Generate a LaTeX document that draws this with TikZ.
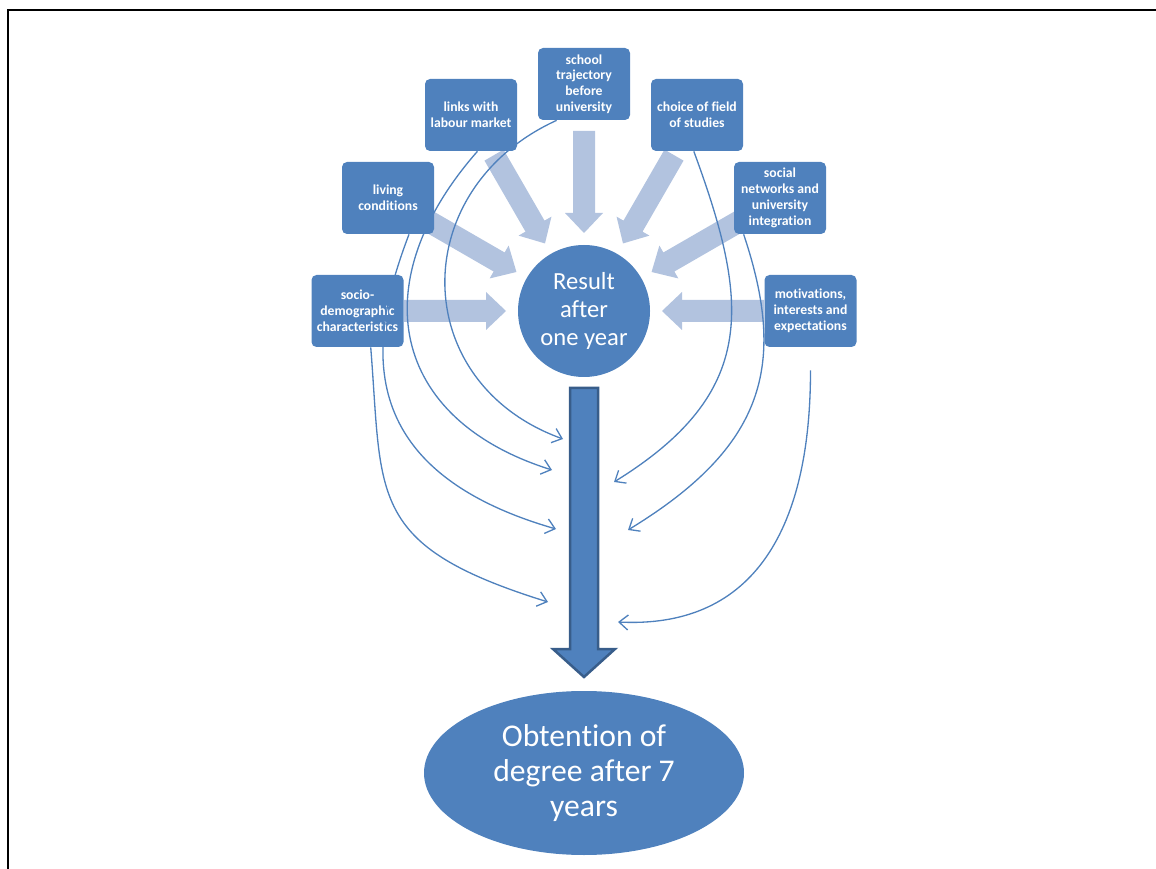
\documentclass[tikz,border=0pt]{standalone}
\usepackage{fontspec}
\setmainfont{Carlito}[Ligatures=NoCommon]
\usetikzlibrary{shapes.geometric,arrows.meta}

\definecolor{boxblue}{HTML}{4F81BD}
\definecolor{paleblue}{RGB}{178,195,223}
\definecolor{darkblue}{HTML}{385D8A}

\tikzset{
  factor/.style={rectangle, rounded corners=1mm, fill=boxblue, text=white,
    minimum width=18.4mm, minimum height=14.4mm, inner sep=0pt, align=center,
    font=\fontsize{7.8}{9}\selectfont\bfseries},
  link/.style={draw=boxblue, line width=0.75pt,
    -{Straight Barb[length=1.8mm,width=3mm]}}
}

\begin{document}
\begin{tikzpicture}[x=0.2mm,y=-0.2mm]
\useasboundingbox (0,0) rectangle (1156,869);
% frame
\draw[line width=0.4mm] (8,869) -- (8,10.5) -- (1156,10.5);

% pale arrows into the result
\foreach \a in {0,30,...,180}
  \fill[paleblue, shift={(584,311)}, rotate=\a]
    (180,11) -- (98,11) -- (98,19) -- (78,0) -- (98,-19) -- (98,-11) -- (180,-11) -- cycle;

% factors
\node[factor] (school) at (584,84) {school\\trajectory\\before\\university};
\node[factor] (links) at (471,115) {links with\\labour market};
\node[factor] (choice) at (697,115) {choice of field\\of studies};
\node[factor] (living) at (388,198) {living\\conditions};
\node[factor] (social) at (780,198) {social\\networks and\\university\\integration};
\node[factor] (socio) at (357.5,311) {socio-\\demographic\\characteristics};
\node[factor] (motiv) at (810.5,311) {motivations,\\interests and\\expectations};

\node[circle, fill=boxblue, text=white, minimum size=26.4mm, inner sep=0pt,
  align=center, font=\fontsize{14}{16}\selectfont] (result) at (584,311) {Result\\after\\one year};

% big arrow down
\draw[fill=boxblue, draw=darkblue, line width=0.5mm]
  (570,388) -- (598,388) -- (598,649) -- (615,649) -- (584,677) -- (553,649) -- (570,649) -- cycle;

\node[ellipse, fill=boxblue, text=white, minimum width=64mm, minimum height=32.8mm,
  inner sep=0pt, align=center, font=\fontsize{18}{20}\selectfont] (degree) at (584,773)
  {Obtention of\\degree after 7\\years};

% long term links
\coordinate (e1) at (563,439);
\coordinate (e2) at (552,470);
\coordinate (e3) at (556,529);
\coordinate (e4) at (548,602);
\coordinate (e5) at (614,482);
\coordinate (e6) at (628,530);
\coordinate (e7) at (618,622);

\draw[link] (school.-127) .. controls +(-151,69) and +(-155,-56) .. (e1);
\draw[link] (links.-80) .. controls +(-115,131) and +(-162,-51) .. (e2);
\draw[link] (living.-60) .. controls +(-36,95) and +(-215,-62) .. (e3);
\draw[link] (socio.-70) .. controls +(12,150) and +(-181.5,-56.4) .. (e4);
\draw[link] (choice.-95) .. controls +(56,152) and +(144.5,-89.4) .. (e5);
\draw[link] (social.-135) .. controls +(44,131) and +(136.6,-83.2) .. (e6);
\draw[link, shorten <=4.6mm] (motiv.south) .. controls +(0,190) and +(130,6.5) .. (e7);
\end{tikzpicture}
\end{document}
